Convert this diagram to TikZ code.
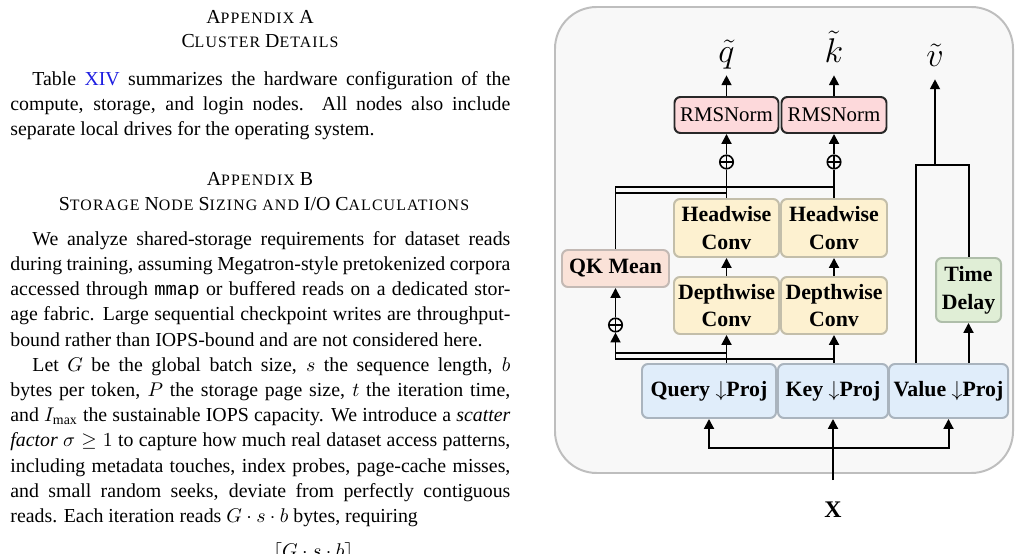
\documentclass[tikz,border=0pt]{standalone}
\usepackage{fontspec}
\setmainfont{Liberation Serif}
\setmonofont{Liberation Mono}
\newfontfamily\myscfont[LetterSpace=7]{Liberation Serif}
\usetikzlibrary{arrows.meta}
\newcommand{\mysc}[1]{{\fontsize{8}{10}\selectfont\myscfont #1}}
\definecolor{linkblue}{RGB}{30,30,225}
\definecolor{outerfill}{RGB}{248,248,248}
\definecolor{outerline}{RGB}{190,190,190}
\definecolor{rmsfill}{RGB}{253,217,219}
\definecolor{rmsline}{RGB}{40,40,40}
\definecolor{convfill}{RGB}{253,241,208}
\definecolor{convline}{RGB}{195,190,170}
\definecolor{qkfill}{RGB}{250,226,216}
\definecolor{qkline}{RGB}{195,185,180}
\definecolor{tdfill}{RGB}{224,238,214}
\definecolor{tdline}{RGB}{175,190,170}
\definecolor{projfill}{RGB}{224,237,250}
\definecolor{projline}{RGB}{170,180,190}
\begin{document}
\begin{tikzpicture}[x=0.504pt,y=-0.504pt,
  arr/.style={line width=1pt,-{Triangle[length=5pt,width=5pt]}},
  wire/.style={line width=1pt},
  txt/.style={anchor=base west,inner sep=0pt,font=\fontsize{10}{12}\selectfont},
  head/.style={anchor=base,inner sep=0pt,font=\fontsize{10}{12}\selectfont},
  blk/.style 2 args={rounded corners=3pt,line width=1pt,minimum width=#1*0.504pt,minimum height=#2*0.504pt,inner sep=0pt,align=center,font=\fontsize{11}{14}\selectfont\bfseries},
  rms/.style={blk={104}{36},fill=rmsfill,draw=rmsline,font=\fontsize{10.5}{12}\selectfont},
  conv/.style={blk={105}{58},fill=convfill,draw=convline},
  proj/.style={fill=projfill,draw=projline},
  mlab/.style={anchor=base,inner xsep=0pt,inner ysep=6pt,text depth=0pt,font=\fontsize{17}{19}\selectfont},
  oplus/.style={circle,draw,line width=0.8pt,fill=outerfill,minimum size=6.8pt,inner sep=0pt,
    path picture={\draw[line width=0.8pt] (path picture bounding box.north) -- (path picture bounding box.south)
      (path picture bounding box.west) -- (path picture bounding box.east);}}
]
\useasboundingbox (0,0) rectangle (1025,554);

% ---------------- left column text ----------------
\node[head] (h1) at (260,24) {A\mysc{PPENDIX} A};
\node[head] (h2) at (260,48) {C\mysc{LUSTER} D\mysc{ETAILS}};
\node[txt] (l1) at (32,86) {\makebox[240.9pt][s]{Table \textcolor{linkblue}{XIV} summarizes the hardware configuration of the}};
\node[txt] (l2) at (10,111) {\makebox[252pt][s]{compute, storage, and login nodes. All nodes also include}};
\node[txt] (l3) at (10,136) {separate local drives for the operating system.};

\node[head] (h3) at (260,186) {A\mysc{PPENDIX} B};
\node[head] (h4) at (264,211) {S\mysc{TORAGE} N\mysc{ODE} S\mysc{IZING AND} I/O C\mysc{ALCULATIONS}};
\node[txt] (l4) at (32,246) {\makebox[240.9pt][s]{We analyze shared-storage requirements for dataset reads}};
\node[txt] (l5) at (10,271) {\makebox[252pt][s]{during training, assuming Megatron-style pretokenized corpora}};
\node[txt] (l6) at (10,296) {\makebox[252pt][s]{accessed through {\fontsize{9.5}{12}\selectfont\texttt{mmap}} or buffered reads on a dedicated stor-}};
\node[txt] (l7) at (10,321) {\makebox[252pt][s]{age fabric. Large sequential checkpoint writes are throughput-}};
\node[txt] (l8) at (10,347) {bound rather than IOPS-bound and are not considered here.};
\node[txt] (l9) at (32,372) {\makebox[240.9pt][s]{Let $G$ be the global batch size, $s$ the sequence length, $b$}};
\node[txt] (l10) at (10,397) {\makebox[252pt][s]{bytes per token, $P$ the storage page size, $t$ the iteration time,}};
\node[txt] (l11) at (10,422) {\makebox[252pt][s]{and $I_{\max}$ the sustainable IOPS capacity. We introduce a \emph{scatter}}};
\node[txt] (l12) at (10,447) {\makebox[252pt][s]{\emph{factor} $\sigma\geq 1$ to capture how much real dataset access patterns,}};
\node[txt] (l13) at (10,473) {\makebox[252pt][s]{including metadata touches, index probes, page-cache misses,}};
\node[txt] (l14) at (10,498) {\makebox[252pt][s]{and small random seeks, deviate from perfectly contiguous}};
\node[txt] (l15) at (10,523) {reads. Each iteration reads $G\cdot s\cdot b$ bytes, requiring};
\node[txt] (l16) at (273,557) {$\lceil G\cdot s\cdot b\rceil$};

% ---------------- diagram ----------------
\draw[draw=outerline,fill=outerfill,line width=1pt,rounded corners=21pt] (555,7) rectangle (1013,473);

\node[rms] (rq) at (726.5,115) {RMSNorm};
\node[rms,minimum width=105*0.504pt] (rk) at (834,115) {RMSNorm};
\node[conv] (hq) at (726.5,228) {Headwise\\Conv};
\node[conv,minimum width=106*0.504pt] (hk) at (834,228) {Headwise\\Conv};
\node[conv,minimum height=57*0.504pt] (dq) at (726.5,305.5) {Depthwise\\Conv};
\node[conv,minimum width=106*0.504pt,minimum height=57*0.504pt] (dk) at (834,305.5) {Depthwise\\Conv};
\node[blk={107}{37},fill=qkfill,draw=qkline] (qk) at (615.5,268.5) {QK Mean};
\node[blk={65}{64},fill=tdfill,draw=tdline] (td) at (968.5,290) {Time\\Delay};
\node[blk={134}{54},proj] (pq) at (709,391) {Query $\downarrow$Proj};
\node[blk={110}{54},proj] (pk) at (833,391) {Key $\downarrow$Proj};
\node[blk={119}{54},proj] (pv) at (948.5,391) {Value $\downarrow$Proj};

\node[oplus] (opq) at (726.5,162) {};
\node[oplus] (opk) at (834,162) {};
\node[oplus] (opm) at (615.5,325) {};

\node[mlab] (qt) at (726.5,63) {$\tilde{q}$};
\node[mlab] (kt) at (834,63) {$\tilde{k}$};
\node[mlab] (vt) at (935,67) {$\tilde{v}$};
\node[anchor=base,inner sep=0pt,font=\fontsize{12}{14}\selectfont\bfseries] (xin) at (833,517) {X};

\coordinate (kj) at (834,187);
\coordinate (qa) at (615.5,193);
\coordinate (qj) at (726.5,193);
\coordinate (qb) at (726.5,353);
\coordinate (ma) at (615.5,353);
\coordinate (kb) at (834,359);
\coordinate (vl) at (916,0);
\coordinate (vmid) at (935,165);
\coordinate (hb) at (833,448);

% q / k columns
\draw[wire] (hq.north) -- (opq.south);
\draw[arr] (opq.north) -- (rq.south);
\draw[arr] (rq.north) -- (qt.south);
\draw[wire] (hk.north) -- (opk.south);
\draw[arr] (opk.north) -- (rk.south);
\draw[arr] (rk.north) -- (kt.south);
\draw[arr] (dq.north) -- (hq.south);
\draw[arr] (dk.north) -- (hk.south);
\draw[arr] (dq.south |- pq.north) -- (dq.south);
\draw[arr] (dk.south |- pk.north) -- (dk.south);

% QK mean branch
\draw[wire] (qb) -- (ma);
\draw[arr] (kb) -| (opm.south);
\draw[arr] (opm.north) -- (qk.south);
\draw[wire] (qk.north) |- (kj);
\draw[wire] (qa) -- (qj);

% value branch
\draw[wire] (pv.north -| vl) |- (vmid) -| (td.north);
\draw[arr] (vmid) -- (vt.south);
\draw[arr] (td.south |- pv.north) -- (td.south);

% input
\draw[arr,shorten <=10.5pt] (xin.north) -- (pk.south);
\draw[arr] (hb) -| (pq.south);
\draw[arr] (hb) -| (pv.south);
\end{tikzpicture}
\end{document}
